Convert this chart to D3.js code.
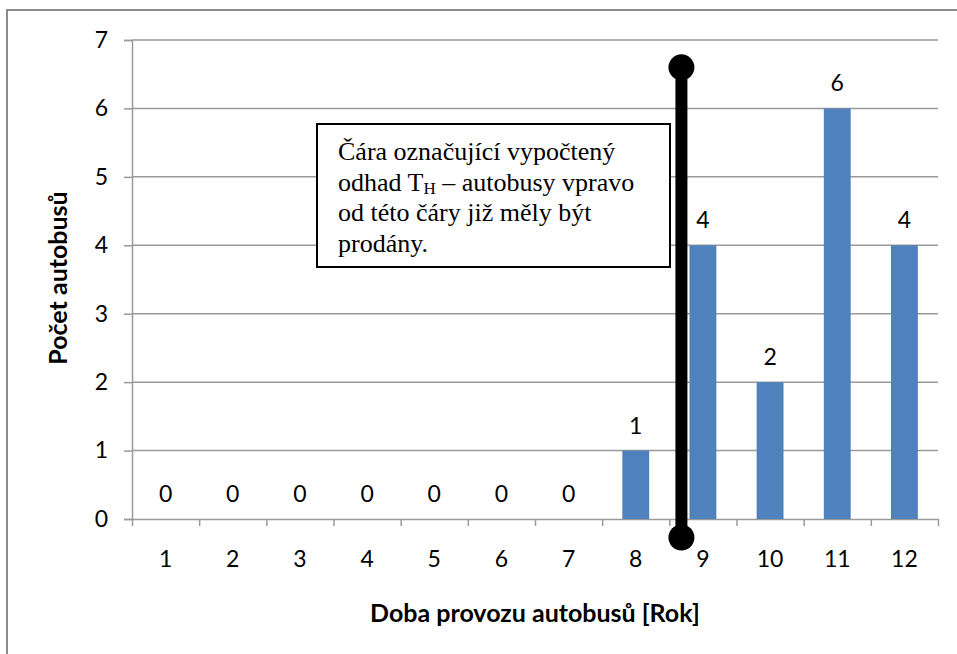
<!DOCTYPE html>
<html>
<head>
<meta charset="utf-8">
<script src="https://cdn.jsdelivr.net/npm/d3@7"></script>
<style>
  body { margin: 0; background: #fff; }
</style>
</head>
<body>
<div id="chart"></div>
<script>
// chart values
var years = [1, 2, 3, 4, 5, 6, 7, 8, 9, 10, 11, 12];
var buses = [0, 0, 0, 0, 0, 0, 0, 1, 4, 2, 6, 4];
var yTicks = [0, 1, 2, 3, 4, 5, 6, 7];
// estimated T_H and extent of the marker line (data units)
var thYear = 8.68;
var thRange = [-0.27, 6.6];
var noteLines = ["Čára označující vypočtený", "odhad T|H| – autobusy vpravo", "od této čáry již měly být", "prodány."];

var width = 957, height = 654;
var margin = { top: 40, right: 19, bottom: 135, left: 132 };
var plotW = width - margin.left - margin.right;
var plotH = height - margin.top - margin.bottom;

var sans = "Lato, 'Open Sans', sans-serif";
var serif = "'Liberation Serif', 'Times New Roman', serif";

var svg = d3.select("#chart").append("svg")
    .attr("width", width)
    .attr("height", height);

// outer frame (runs off the right and bottom edges)
svg.append("rect")
    .attr("x", 7).attr("y", 10)
    .attr("width", 1000).attr("height", 700)
    .attr("fill", "none")
    .attr("stroke", "#8c8c8c")
    .attr("stroke-width", 2);

var g = svg.append("g")
    .attr("transform", "translate(" + margin.left + "," + margin.top + ")");

var x = d3.scaleBand()
    .domain(years)
    .range([0, plotW])
    .paddingInner(0.6)
    .paddingOuter(0.3);

var xLin = d3.scaleLinear()
    .domain([0.5, 12.5])
    .range([0, plotW]);

var y = d3.scaleLinear()
    .domain([0, 7])
    .range([plotH, 0]);

var grey = "#9a9a9a";

// gridlines
g.selectAll(".grid")
    .data(yTicks.slice(1))
    .enter().append("line")
    .attr("x1", 0).attr("x2", plotW)
    .attr("y1", function (d) { return y(d); })
    .attr("y2", function (d) { return y(d); })
    .attr("stroke", grey)
    .attr("stroke-width", 1.5);

// y axis
var yAxis = g.append("g")
    .call(d3.axisLeft(y).tickValues(yTicks).tickSize(8).tickPadding(16).tickFormat(d3.format("d")));
yAxis.attr("font-family", sans).attr("font-size", 23);
yAxis.select(".domain").attr("stroke", grey).attr("stroke-width", 1.5);
yAxis.selectAll(".tick line").attr("stroke", grey).attr("stroke-width", 1.5);
yAxis.selectAll(".tick text").attr("fill", "#000");

// x axis: ticks between categories
var xAxis = g.append("g")
    .attr("transform", "translate(0," + plotH + ")")
    .call(d3.axisBottom(xLin).tickValues(d3.range(0.5, 13, 1)).tickSize(7).tickSizeOuter(0).tickFormat(""));
xAxis.select(".domain").attr("stroke", grey).attr("stroke-width", 1.5);
xAxis.selectAll(".tick line").attr("stroke", grey).attr("stroke-width", 1.5);

var xLabels = g.append("g")
    .attr("transform", "translate(0," + plotH + ")")
    .call(d3.axisBottom(x).tickSize(0).tickPadding(32));
xLabels.attr("font-family", sans).attr("font-size", 23);
xLabels.select(".domain").remove();
xLabels.selectAll(".tick text").attr("fill", "#000");

// bars
g.selectAll(".bar")
    .data(buses)
    .enter().append("rect")
    .attr("x", function (d, i) { return x(years[i]); })
    .attr("y", function (d) { return y(d); })
    .attr("width", x.bandwidth())
    .attr("height", function (d) { return plotH - y(d); })
    .attr("fill", "#4f81bd");

// value labels
g.selectAll(".val")
    .data(buses)
    .enter().append("text")
    .attr("x", function (d, i) { return x(years[i]) + x.bandwidth() / 2; })
    .attr("y", function (d) { return y(d) - 17; })
    .attr("text-anchor", "middle")
    .attr("font-family", sans)
    .attr("font-size", 23)
    .text(function (d) { return d; });

// T_H marker line
g.append("line")
    .attr("x1", xLin(thYear)).attr("x2", xLin(thYear))
    .attr("y1", y(thRange[0])).attr("y2", y(thRange[1]))
    .attr("stroke", "#000")
    .attr("stroke-width", 12);
g.selectAll(".end")
    .data(thRange)
    .enter().append("circle")
    .attr("cx", xLin(thYear))
    .attr("cy", function (d) { return y(d); })
    .attr("r", 13)
    .attr("fill", "#000");

// annotation box
var note = svg.append("g").attr("transform", "translate(317,124)");
note.append("rect")
    .attr("width", 353).attr("height", 143)
    .attr("fill", "#fff")
    .attr("stroke", "#000")
    .attr("stroke-width", 2);
noteLines.forEach(function (line, i) {
    var t = note.append("text")
        .attr("x", 21)
        .attr("y", 36 + i * 30.5)
        .attr("font-family", serif)
        .attr("font-size", 26);
    line.split("|").forEach(function (part, j) {
        var ts = t.append("tspan").text(part);
        if (j === 1) ts.attr("font-size", 17).attr("dy", 3);
        if (j === 2) ts.attr("dy", -3);
    });
});

// axis titles
svg.append("text")
    .attr("x", margin.left + plotW / 2)
    .attr("y", 622)
    .attr("text-anchor", "middle")
    .attr("font-family", sans)
    .attr("font-size", 25)
    .attr("font-weight", "bold")
    .text("Doba provozu autobusů [Rok]");

svg.append("text")
    .attr("transform", "translate(67,278) rotate(-90)")
    .attr("text-anchor", "middle")
    .attr("font-family", sans)
    .attr("font-size", 25)
    .attr("font-weight", "bold")
    .text("Počet autobusů");
</script>
</body>
</html>
